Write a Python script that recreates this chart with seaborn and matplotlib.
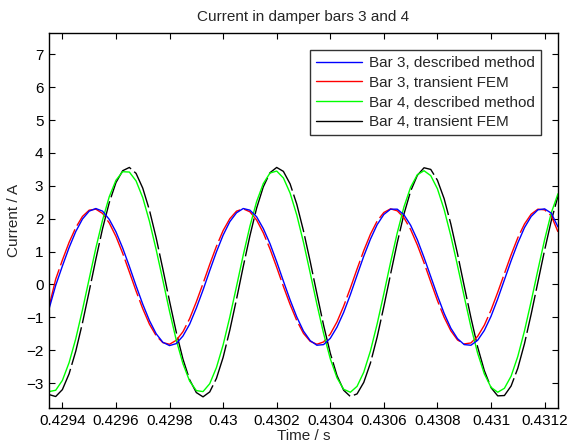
import numpy as np
import pandas as pd
import matplotlib
matplotlib.use("Agg")
import matplotlib.pyplot as plt
from matplotlib.lines import Line2D
import seaborn as sns

# Sample time grid of the simulation (s)
t_start = 0.42935
t_step = 0.000025
n_samples = 77

# Damper bar currents (A)
bar3_described = [
    -0.75, -0.03, 0.56, 1.12, 1.61, 1.99, 2.23, 2.31, 2.23, 1.98,
    1.60, 1.11, 0.55, -0.04, -0.60, -1.10, -1.50, -1.76, -1.86, -1.80,
    -1.57, -1.21, -0.72, -0.17, 0.42, 0.99, 1.50, 1.91, 2.18, 2.31,
    2.26, 2.06, 1.70, 1.24, 0.69, 0.10, -0.47, -0.99, -1.42, -1.71,
    -1.85, -1.83, -1.64, -1.30, -0.85, -0.31, 0.28, 0.86, 1.38, 1.82,
    2.13, 2.29, 2.29, 2.12, 1.80, 1.36, 0.82, 0.24, -0.34, -0.88,
    -1.33, -1.65, -1.83, -1.85, -1.70, -1.40, -0.97, -0.44, 0.14, 0.72,
    1.26, 1.73, 2.07, 2.27, 2.30, 2.17, 1.75,
]
bar3_fem = [
    -0.68, 0.16, 0.74, 1.28, 1.73, 2.07, 2.26, 2.29, 2.16, 1.87,
    1.46, 0.95, 0.38, -0.20, -0.74, -1.21, -1.56, -1.77, -1.82, -1.70,
    -1.44, -1.04, -0.53, 0.03, 0.61, 1.16, 1.64, 2.00, 2.23, 2.30,
    2.21, 1.96, 1.57, 1.08, 0.52, -0.06, -0.61, -1.10, -1.49, -1.73,
    -1.82, -1.75, -1.51, -1.14, -0.66, -0.11, 0.47, 1.03, 1.53, 1.93,
    2.19, 2.30, 2.24, 2.03, 1.67, 1.20, 0.66, 0.08, -0.49, -1.00,
    -1.41, -1.69, -1.81, -1.78, -1.58, -1.24, -0.78, -0.24, 0.33, 0.90,
    1.42, 1.84, 2.14, 2.29, 2.27, 2.09, 1.60,
]
bar4_described = [
    -3.26, -3.22, -2.92, -2.38, -1.65, -0.77, 0.17, 1.11, 1.96, 2.67,
    3.17, 3.43, 3.42, 3.15, 2.64, 1.92, 1.06, 0.13, -0.82, -1.69,
    -2.41, -2.94, -3.23, -3.26, -3.02, -2.53, -1.84, -0.99, -0.06, 0.89,
    1.77, 2.52, 3.07, 3.39, 3.45, 3.24, 2.78, 2.11, 1.28, 0.35,
    -0.60, -1.49, -2.26, -2.84, -3.19, -3.28, -3.10, -2.67, -2.02, -1.20,
    -0.28, 0.67, 1.57, 2.36, 2.96, 3.34, 3.46, 3.31, 2.91, 2.28,
    1.48, 0.57, -0.37, -1.29, -2.09, -2.72, -3.13, -3.28, -3.16, -2.79,
    -2.19, -1.41, -0.51, 0.44, 1.36, 2.18, 2.76,
]
bar4_fem = [
    -3.35, -3.41, -3.20, -2.72, -2.03, -1.17, -0.21, 0.77, 1.70, 2.49,
    3.10, 3.46, 3.56, 3.38, 2.93, 2.26, 1.42, 0.47, -0.51, -1.45,
    -2.27, -2.90, -3.29, -3.42, -3.27, -2.86, -2.22, -1.39, -0.45, 0.54,
    1.48, 2.32, 2.97, 3.40, 3.56, 3.44, 3.06, 2.44, 1.63, 0.70,
    -0.28, -1.24, -2.09, -2.77, -3.22, -3.41, -3.33, -2.98, -2.39, -1.60,
    -0.67, 0.31, 1.27, 2.14, 2.84, 3.32, 3.55, 3.50, 3.17, 2.61,
    1.84, 0.93, -0.05, -1.01, -1.90, -2.62, -3.14, -3.39, -3.38, -3.09,
    -2.55, -1.80, -0.90, 0.07, 1.04, 1.94, 2.69,
]

series_labels = [
    "Bar 3, described method",
    "Bar 3, transient FEM",
    "Bar 4, described method",
    "Bar 4, transient FEM",
]
series_colors = ["#0000ff", "#ff0000", "#00ff00", "#000000"]

x_ticks = [0.4294, 0.4296, 0.4298, 0.4300, 0.4302, 0.4304, 0.4306, 0.4308, 0.4310, 0.4312]
x_tick_labels = ["0.4294", "0.4296", "0.4298", "0.43", "0.4302",
                 "0.4304", "0.4306", "0.4308", "0.431", "0.4312"]
y_ticks = [-3, -2, -1, 0, 1, 2, 3, 4, 5, 6, 7]

time = t_start + t_step * np.arange(n_samples)
values = [bar3_described, bar3_fem, bar4_described, bar4_fem]
df = pd.concat(
    [pd.DataFrame({"time": time, "current": v, "series": lab})
     for v, lab in zip(values, series_labels)],
    ignore_index=True,
)

sns.set_style("ticks")
plt.rcParams["font.family"] = ["Liberation Sans", "DejaVu Sans"]
fs = 11.0

fig = plt.figure(figsize=(5.67, 4.45), dpi=100)
ax = fig.add_axes([0.0864, 0.0831, 0.8977, 0.8427])

# FEM results are drawn first as broken lines, the described method on top
draw_order = [3, 1, 2, 0]
for k in draw_order:
    sub = df[df["series"] == series_labels[k]]
    fem = "FEM" in series_labels[k]
    sns.lineplot(
        data=sub, x="time", y="current", ax=ax, color=series_colors[k],
        linewidth=1.0, estimator=None, sort=False, legend=False,
        linestyle=(0, (28, 3)) if fem else "-",
    )

ax.set_xlim(0.42935, 0.43125)
ax.set_ylim(-3.76, 7.65)
ax.set_xticks(x_ticks)
ax.set_xticklabels(x_tick_labels)
ax.set_yticks(y_ticks)
ax.tick_params(direction="in", length=4, width=0.8, top=True, right=True,
               labelsize=fs, colors="black", pad=4)
for sp in ax.spines.values():
    sp.set_visible(True)
    sp.set_color("black")
    sp.set_linewidth(1.0)

ax.set_title("Current in damper bars 3 and 4", fontsize=fs, pad=9)
ax.set_xlabel("Time / s", fontsize=fs, labelpad=1)
ax.set_ylabel("Current / A", fontsize=fs, labelpad=4)

handles = [Line2D([0], [0], color=c, lw=1.0) for c in series_colors]
leg = ax.legend(handles, series_labels, loc="upper right", fontsize=fs,
                frameon=True, fancybox=False, edgecolor="black",
                handlelength=3.0, handletextpad=0.45, labelspacing=0.38,
                borderpad=0.4, borderaxespad=1.1)
leg.get_frame().set_linewidth(1.0)

fig.savefig("out.png", dpi=100, facecolor="white")
